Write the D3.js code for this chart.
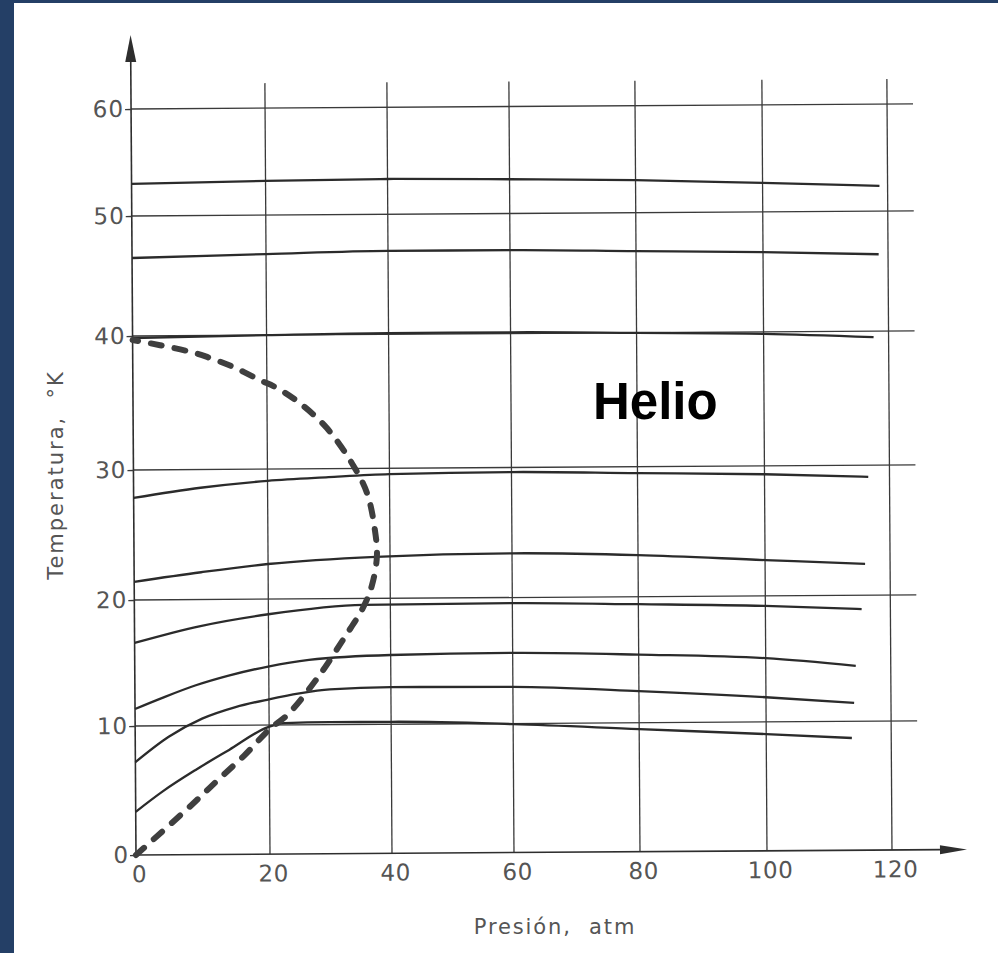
<!DOCTYPE html>
<html>
<head>
<meta charset="utf-8">
<script src="https://cdn.jsdelivr.net/npm/d3@7"></script>
<style>
  html, body { margin: 0; padding: 0; background: #fff; }
  svg { display: block; }
</style>
</head>
<body>
<svg id="chart" width="998" height="953"></svg>
<script>
// ---------- data ----------
const pressureTicks = [0, 20, 40, 60, 80, 100, 120];
const tempTicks = [0, 10, 20, 30, 40, 50, 60];

// isenthalpic curves: pressure (atm) / temperature (K)
const iso1P = [0, 20, 40, 60, 80, 100, 118.7];
const iso1T = [53.0, 53.2, 53.3, 53.2, 53.05, 52.7, 52.35];
const iso2P = [0, 20, 40, 60, 80, 100, 118.5];
const iso2T = [46.5, 46.75, 46.95, 46.95, 46.8, 46.65, 46.4];
const iso3P = [0, 20, 40, 60, 80, 100, 117.6];
const iso3T = [39.85, 40.0, 40.1, 40.1, 39.98, 39.85, 39.55];
const iso4P = [0, 10, 20, 30, 40, 60, 80, 100, 116.6];
const iso4T = [27.85, 28.6, 29.1, 29.35, 29.55, 29.65, 29.5, 29.35, 29.1];
const iso5P = [0, 10, 20, 37.7, 60, 80, 100, 116.0];
const iso5T = [21.4, 22.1, 22.7, 23.2, 23.4, 23.2, 22.75, 22.4];
const iso6P = [0, 9.85, 20, 35.6, 60, 80, 100, 115.4];
const iso6T = [16.6, 17.9, 18.8, 19.5, 19.55, 19.4, 19.2, 18.9];
const iso7P = [0, 4, 9.1, 14, 19.9, 26.6, 40, 60, 80, 100, 114.4];
const iso7T = [11.35, 12.2, 13.2, 13.95, 14.65, 15.15, 15.5, 15.6, 15.4, 15.05, 14.4];
const iso8P = [0, 5, 10, 15, 20, 25, 30, 40, 60, 80, 100, 114.1];
const iso8T = [7.2, 9.15, 10.55, 11.45, 12.05, 12.5, 12.8, 12.95, 12.9, 12.5, 11.95, 11.45];
const iso9P = [0, 4, 9.1, 14, 19.85, 22.5, 30, 40, 60, 80, 100, 113.7];
const iso9T = [3.35, 4.9, 6.6, 8.1, 9.85, 10.15, 10.2, 10.2, 9.95, 9.5, 9.05, 8.7];

// inversion curve (dashed)
const invP = [0, 8.35, 12.25, 16.25, 20.1, 23.0, 28.1, 32.5, 35.5, 37.0, 37.85, 37.55, 36.3, 33.85, 29.75, 25.4, 21.65, 18.95, 14.95, 11.1, 8.55, 4.1, 0];
const invT = [0, 3.85, 5.75, 7.65, 9.7, 10.8, 13.8, 16.95, 19.25, 21.0, 23.25, 25.25, 28.1, 30.4, 33.05, 34.9, 36.05, 36.65, 37.65, 38.4, 38.8, 39.3, 39.7];

const xTitle = "Presión,  atm";
const yTitle = "Temperatura,  °K";
const gasLabel = "Helio";

// ---------- layout ----------
const svg = d3.select("#chart");
svg.append("rect").attr("x", 0).attr("y", 0).attr("width", 998).attr("height", 953).attr("fill", "#fff");
svg.append("rect").attr("x", 0).attr("y", 0).attr("width", 14).attr("height", 953).attr("fill", "#243f66");
svg.append("rect").attr("x", 0).attr("y", 0).attr("width", 998).attr("height", 3).attr("fill", "#243f66");

// scanned grid is slightly uneven: piecewise linear scales
const x = d3.scaleLinear().domain(pressureTicks).range([136, 270, 392, 514, 640, 767, 892]);
const y = d3.scaleLinear().domain(tempTicks).range([855, 726, 600, 470, 336, 216, 109]);

const x0 = x(0), y0 = y(0);
const gridTop = 84, gridRight = 918;

const g = svg.append("g").attr("transform", `rotate(-0.38, ${x0}, ${y0})`);

// gridlines
g.append("g").selectAll("line").data(pressureTicks.filter(d => d > 0)).join("line")
  .attr("x1", d => x(d)).attr("x2", d => x(d))
  .attr("y1", gridTop).attr("y2", y0)
  .attr("stroke", "#3a3a3a").attr("stroke-width", 1.3);
g.append("g").selectAll("line").data(tempTicks.filter(d => d > 0)).join("line")
  .attr("x1", x0).attr("x2", gridRight)
  .attr("y1", d => y(d)).attr("y2", d => y(d))
  .attr("stroke", "#3a3a3a").attr("stroke-width", 1.3);

// axes lines with arrows
g.append("line").attr("x1", x0).attr("x2", 942).attr("y1", y0).attr("y2", y0)
  .attr("stroke", "#2e2e2e").attr("stroke-width", 1.6);
g.append("path").attr("d", `M967,${y0} L940,${y0 - 4.5} L940,${y0 + 4.5} Z`).attr("fill", "#2e2e2e");
g.append("line").attr("x1", x0).attr("x2", x0).attr("y1", y0).attr("y2", 60)
  .attr("stroke", "#2e2e2e").attr("stroke-width", 1.6);
g.append("path").attr("d", `M${x0},35 L${x0 - 5.5},62 L${x0 + 5.5},62 Z`).attr("fill", "#2e2e2e");

// y axis ticks + labels
const yAxis = d3.axisLeft(y).tickValues(tempTicks).tickSize(6).tickPadding(1).tickFormat(d3.format("d"));
const yg = g.append("g").attr("transform", `translate(${x0},0)`).call(yAxis);
yg.select(".domain").remove();
yg.selectAll(".tick line").attr("stroke", "#3a3a3a").attr("stroke-width", 1.3);
yg.selectAll(".tick text").attr("fill", "#555").attr("font-family", "DejaVu Sans, sans-serif")
  .attr("font-size", 23).attr("letter-spacing", "1px");

// x axis labels
const xAxis = d3.axisBottom(x).tickValues(pressureTicks).tickSize(0).tickPadding(11).tickFormat(d3.format("d"));
const xg = g.append("g").attr("transform", `translate(0,${y0})`).call(xAxis);
xg.select(".domain").remove();
xg.selectAll(".tick text").attr("fill", "#555").attr("font-family", "DejaVu Sans, sans-serif")
  .attr("font-size", 23).attr("letter-spacing", "0.6px").attr("dx", 3);

// isenthalps
const isos = [
  [iso1P, iso1T], [iso2P, iso2T], [iso3P, iso3T], [iso4P, iso4T], [iso5P, iso5T],
  [iso6P, iso6T], [iso7P, iso7T], [iso8P, iso8T], [iso9P, iso9T]
];
const line = d3.line().x(d => x(d[0])).y(d => y(d[1])).curve(d3.curveMonotoneX);
g.append("g").selectAll("path").data(isos.map(([P, T]) => P.map((p, i) => [p, T[i]]))).join("path")
  .attr("d", line).attr("fill", "none").attr("stroke", "#2b2b2b").attr("stroke-width", 2.3);

// inversion curve
const invLine = d3.line().x(d => x(d[0])).y(d => y(d[1])).curve(d3.curveCatmullRom.alpha(0.5));
g.append("path").datum(invP.map((p, i) => [p, invT[i]]))
  .attr("d", invLine).attr("fill", "none").attr("stroke", "#3f3f3f")
  .attr("stroke-width", 6).attr("stroke-linecap", "round").attr("stroke-dasharray", "11 13");

// titles
svg.append("text").attr("x", 555).attr("y", 934).attr("text-anchor", "middle")
  .attr("font-family", "DejaVu Sans, sans-serif").attr("font-size", 21).attr("fill", "#555")
  .attr("letter-spacing", "1.9px").style("white-space", "pre").text(xTitle);
svg.append("text").attr("transform", "translate(63,475) rotate(-90)").attr("text-anchor", "middle")
  .attr("font-family", "DejaVu Sans, sans-serif").attr("font-size", 21).attr("fill", "#555")
  .attr("letter-spacing", "2px").style("white-space", "pre").text(yTitle);
svg.append("text").attr("x", 593).attr("y", 419)
  .attr("font-family", "Liberation Sans, Arial, sans-serif").attr("font-weight", "bold")
  .attr("font-size", 51).attr("fill", "#000").text(gasLabel);
</script>
</body>
</html>
